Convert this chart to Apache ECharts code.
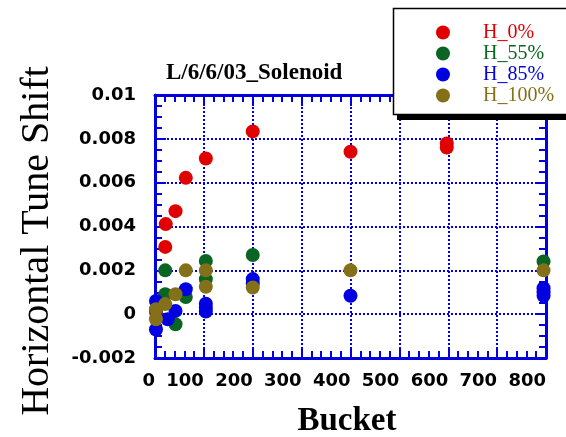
<!DOCTYPE html>
<html>
<head>
<meta charset="utf-8">
<script src="https://cdn.jsdelivr.net/npm/echarts@6/dist/echarts.min.js"></script>
<style>
html,body{margin:0;padding:0;background:#fff;}
#chart{width:566px;height:437px;}
</style>
</head>
<body>
<div id="chart"></div>
<script>
// ---- data ----
const seriesNames = ['H_0%', 'H_55%', 'H_85%', 'H_100%'];

const h0Bucket = [2, 21, 22, 42, 63, 104, 200, 400, 597, 597];
const h0Shift  = [0.0001, 0.00307, 0.00411, 0.0047, 0.00622, 0.0071, 0.00834, 0.00741, 0.00779, 0.0076];

const h55Bucket = [2, 21, 21, 42, 63, 104, 104, 200, 795];
const h55Shift  = [0.0002, 0.002, 0.00091, -0.00046, 0.00078, 0.00243, 0.0016, 0.0027, 0.0024];

const h85Bucket = [2, 2, 26, 42, 63, 104, 104, 104, 200, 200, 400, 795, 795, 795];
const h85Shift  = [0.0006, -0.0007, -0.00023, 0.00015, 0.00114, 0.00048, 0.0003, 0.00012, 0.0016, 0.0014, 0.00084, 0.00118, 0.001, 0.00084];

const h100Bucket = [2, 2, 21, 42, 63, 104, 104, 200, 400, 795];
const h100Shift  = [0.00023, -0.00023, 0.00046, 0.00091, 0.002, 0.002, 0.00125, 0.00122, 0.002, 0.002];

const xTickLabels = ['0', '100', '200', '300', '400', '500', '600', '700', '800'];
const yTickLabels = ['-0.002', '0', '0.002', '0.004', '0.006', '0.008', '0.01'];

const chartTitle = 'L/6/6/03_Solenoid';
const xName = 'Bucket';
const yName = 'Horizontal Tune Shift';

// ---- chart ----
const colors = ['#e00000', '#0a6423', '#0000e0', '#85701a'];
const axisBlue = '#0000e0';
const tickColor = '#0000e0';
const xMin = 0, xMax = 800, xStep = 100;
const yMin = -0.002, yMax = 0.01, yStep = 0.002;
const MAJOR_LEN = 11, MINOR_LEN = 7;

function zip(a, b) { return a.map((v, i) => [v, b[i]]); }
const seriesData = [
  zip(h0Bucket, h0Shift),
  zip(h55Bucket, h55Shift),
  zip(h85Bucket, h85Shift),
  zip(h100Bucket, h100Shift)
];

const labelFont = { fontFamily: '"DejaVu Sans"', fontWeight: 'bold', fontSize: 18, color: '#000' };

function axisOpt(dim, pos, withLabels) {
  const isX = dim === 'x';
  const labels = isX ? xTickLabels : yTickLabels;
  const mn = isX ? xMin : yMin, st = isX ? xStep : yStep;
  return {
    type: 'value', position: pos,
    min: mn, max: isX ? xMax : yMax, interval: st,
    axisLine: { show: true, onZero: false, lineStyle: { color: axisBlue, width: 3 } },
    axisTick: { show: true, inside: true, length: MAJOR_LEN, lineStyle: { color: tickColor, width: 2 } },
    minorTick: { show: true, splitNumber: isX ? 5 : 4, length: MINOR_LEN, lineStyle: { color: tickColor, width: 2 } },
    splitLine: { show: withLabels, lineStyle: { color: axisBlue, width: 2, type: [2, 2] } },
    axisLabel: withLabels ? Object.assign({
      show: true, margin: isX ? 14 : 19, align: isX ? 'right' : undefined,
      formatter: v => labels[Math.round((v - mn) / st)]
    }, labelFont) : { show: false }
  };
}

const chart = echarts.init(document.getElementById('chart'));
chart.setOption({
  animation: false,
  backgroundColor: '#fff',
  grid: { left: 155, right: 20, top: 95, bottom: 79 },
  xAxis: [axisOpt('x', 'bottom', true), axisOpt('x', 'top', false)],
  yAxis: [axisOpt('y', 'left', true), axisOpt('y', 'right', false)],
  legend: {
    orient: 'vertical',
    left: 393, top: 8,
    padding: [14, 11, 10, 43],
    itemGap: 0,
    itemWidth: 14, itemHeight: 14,
    icon: 'circle',
    backgroundColor: 'transparent',
    borderWidth: 0,
    textStyle: { fontFamily: '"Liberation Serif"', fontSize: 20, lineHeight: 21, padding: [0, 0, 0, 28] },
    data: seriesNames.map((n, i) => ({ name: n, textStyle: { color: colors[i] } })),
    z: 12
  },
  series: seriesNames.map((n, i) => ({
    name: n, type: 'scatter', xAxisIndex: 0, yAxisIndex: 0,
    symbol: 'circle', symbolSize: 14,
    itemStyle: { color: colors[i], opacity: 1 },
    data: seriesData[i]
  })),
  graphic: [
    { type: 'rect', z: 10, shape: { x: 397, y: 12, width: 175, height: 108 }, style: { fill: '#000' } },
    { type: 'rect', z: 11, shape: { x: 393.5, y: 8.5, width: 175, height: 106 }, style: { fill: '#fff', stroke: '#000', lineWidth: 1.5 } },
    { type: 'text', x: 166, y: 73, z: 20,
      style: { text: chartTitle, font: 'bold 23px "Liberation Serif"', fill: '#000', align: 'left', verticalAlign: 'middle' } },
    { type: 'text', x: 37, y: 241, rotation: Math.PI / 2, z: 20,
      style: { text: yName, font: '40px "Liberation Serif"', fill: '#000', align: 'center', verticalAlign: 'middle' } },
    { type: 'text', x: 347, y: 421, z: 20,
      style: { text: xName, font: 'bold 33px "Liberation Serif"', fill: '#000', align: 'center', verticalAlign: 'middle' } }
  ]
});
</script>
</body>
</html>
